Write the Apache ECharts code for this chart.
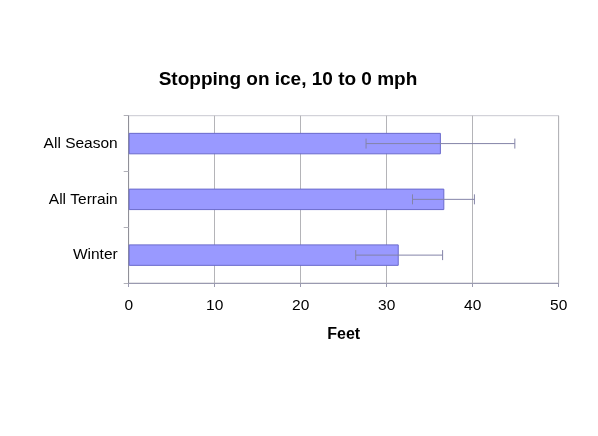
<!DOCTYPE html>
<html>
<head>
<meta charset="utf-8">
<script src="https://cdn.jsdelivr.net/npm/echarts@6/dist/echarts.min.js"></script>
<style>
html, body { margin: 0; padding: 0; background: #fff; }
#main { width: 598px; height: 436px; }
</style>
</head>
<body>
<div id="main"></div>
<script>
// categories listed bottom to top
var categories = ['Winter', 'All Terrain', 'All Season'];
var stopFeet = [31.4, 36.7, 36.3];
var errLow = [26.4, 33.0, 27.6];
var errHigh = [36.5, 40.2, 44.9];
var xTicks = [0, 10, 20, 30, 40, 50];

var errData = [];
for (var i = 0; i < categories.length; i++) {
	errData.push([i, errLow[i], errHigh[i]]);
}

var myChart = echarts.init(document.getElementById('main'));
var option = {
	animation : false,
	title : {
		text : 'Stopping on ice, 10 to 0 mph',
		left : 288,
		top : 65,
		textAlign : 'center',
		textStyle : {
			fontFamily : 'Liberation Sans',
			fontSize : 19,
			fontWeight : 'bold',
			color : '#000'
		}
	},
	grid : {
		left : 128.7,
		right : 39.3,
		top : 115.7,
		bottom : 153,
		show : true,
		borderColor : '#c8c8d0',
		borderWidth : 1
	},
	xAxis : {
		type : 'value',
		min : xTicks[0],
		max : xTicks[xTicks.length - 1],
		interval : 10,
		name : 'Feet',
		nameLocation : 'middle',
		nameGap : 44,
		nameTextStyle : {
			fontFamily : 'Liberation Sans',
			fontSize : 16,
			fontWeight : 'bold',
			color : '#000'
		},
		axisLine : { show : true, lineStyle : { color : '#9a9ab0', width : 1 } },
		axisTick : { show : true, length : 4, lineStyle : { color : '#9a9ab0' } },
		axisLabel : {
			margin : 15,
			fontFamily : 'Liberation Sans',
			fontSize : 15.5,
			color : '#000'
		},
		splitLine : { show : true, lineStyle : { color : '#b4b4b8', width : 1 } }
	},
	yAxis : {
		type : 'category',
		data : categories,
		axisLine : { show : true, lineStyle : { color : '#909098', width : 1 } },
		axisTick : { show : true, length : 5, lineStyle : { color : '#b0b0b8' } },
		axisLabel : {
			margin : 11,
			fontFamily : 'Liberation Sans',
			fontSize : 15.5,
			color : '#000'
		},
		splitLine : { show : false }
	},
	series : [ {
		name : 'Stopping distance',
		type : 'bar',
		data : stopFeet,
		barWidth : '38.5%',
		itemStyle : {
			color : '#9999ff',
			borderColor : '#6a6acc',
			borderWidth : 1
		}
	}, {
		name : 'Error',
		type : 'custom',
		data : errData,
		encode : { x : [1, 2], y : 0 },
		z : 5,
		renderItem : function(params, api) {
			var idx = api.value(0);
			var lo = api.coord([api.value(1), idx]);
			var hi = api.coord([api.value(2), idx]);
			var cap = 5;
			var style = { stroke : '#8484a8', lineWidth : 1, fill : null };
			return {
				type : 'group',
				children : [ {
					type : 'line',
					shape : { x1 : lo[0], y1 : lo[1], x2 : hi[0], y2 : hi[1] },
					style : style
				}, {
					type : 'line',
					shape : { x1 : lo[0], y1 : lo[1] - cap, x2 : lo[0], y2 : lo[1] + cap },
					style : style
				}, {
					type : 'line',
					shape : { x1 : hi[0], y1 : hi[1] - cap, x2 : hi[0], y2 : hi[1] + cap },
					style : style
				} ]
			};
		}
	} ]
};
option.title.left = 283;
myChart.setOption(option);
</script>
</body>
</html>
